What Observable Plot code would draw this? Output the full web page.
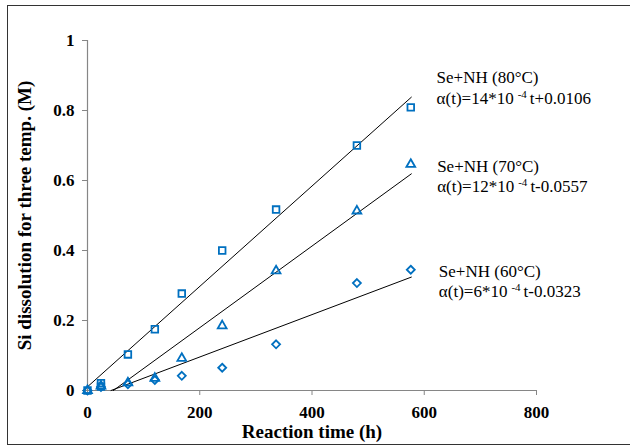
<!DOCTYPE html>
<html>
<head>
<meta charset="utf-8">
<script src="https://cdn.jsdelivr.net/npm/d3@7"></script>
<script src="https://cdn.jsdelivr.net/npm/@observablehq/plot@0.6"></script>
<style>
  html, body { margin: 0; padding: 0; background: #fff; }
  #wrap { position: relative; width: 630px; height: 448px; overflow: hidden; }
  #frame { position: absolute; left: 7px; top: 5px; width: 640px; height: 440px; border: 1.5px solid #333; box-sizing: border-box; pointer-events: none; }
  #chart { position: absolute; left: 0; top: 0; }
  #chart svg text { font-family: "Liberation Serif", "Times New Roman", serif; }
</style>
</head>
<body>
<div id="wrap"><div id="chart"></div><div id="frame"></div></div>
<script>
// Reaction time (h)
const times = [0, 24, 72, 120, 168, 240, 336, 480, 576];
// Si dissolution (M) per temperature
const si80 = [0, 0.021, 0.103, 0.175, 0.277, 0.400, 0.517, 0.700, 0.809];
const si80b = [0.011]; // second 80°C point at t=24
const si70 = [0, 0.013, 0.022, 0.035, 0.092, 0.185, 0.342, 0.513, 0.646];
const si60 = [0, 0.010, 0.018, 0.030, 0.042, 0.065, 0.132, 0.307, 0.345];

// fitted lines as drawn (start/end time and value)
const trendSeries = ["80", "70", "60"];
const trendT0 = [0, 46, 42];
const trendV0 = [0.0106, 0, 0];
const trendT1 = [577, 577, 577];
const trendV1 = [0.838, 0.619, 0.324];

// annotations
const labelNames = ["Se+NH (80°C)", "Se+NH (70°C)", "Se+NH (60°C)"];
const labelEqs = ["α(t)=14*10 -4 t+0.0106", "α(t)=12*10 -4 t-0.0557", "α(t)=6*10 -4 t-0.0323"];
const labelX = [622, 623, 626];
const labelY1 = [0.8946, 0.6392, 0.3392];
const labelY2 = [0.8347, 0.5820, 0.2820];

const xTicks = [0, 200, 400, 600, 800];
const yTicks = [0, 0.2, 0.4, 0.6, 0.8, 1];

const blue = "#0070C0";
const axisGray = "#868686";
const serif = "'Liberation Serif', 'Times New Roman', serif";

const pts = (vals, s) => times.map((t, i) => ({t, v: vals[i], s}));
const p80 = pts(si80, "80").concat([{t: 24, v: si80b[0], s: "80"}]);
const p70 = pts(si70, "70");
const p60 = pts(si60, "60");

const trends = [];
trendSeries.forEach((s, i) => {
  trends.push({s, t: trendT0[i], v: trendV0[i]});
  trends.push({s, t: trendT1[i], v: trendV1[i]});
});

const labels = labelNames.map((n, i) => ({x: labelX[i], y: labelY1[i], text: n}));
const eqs = labelEqs.map((n, i) => ({x: labelX[i], y: labelY2[i], text: n}));

const chart = Plot.plot({
  width: 630,
  height: 448,
  marginLeft: 87,
  marginRight: 94,
  marginTop: 40,
  marginBottom: 58,
  style: {fontFamily: serif, background: "transparent", overflow: "visible"},
  x: {domain: [0, 800]},
  y: {domain: [0, 1]},
  marks: [
    Plot.ruleY([0], {x1: 0, x2: 800, stroke: axisGray, strokeWidth: 1.2}),
    Plot.ruleX([0], {y1: 0, y2: 1, stroke: axisGray, strokeWidth: 1.2}),
    Plot.axisX({ticks: xTicks, tickSize: 5, tickPadding: 10, stroke: axisGray, color: "#000",
      fontSize: 17, fontWeight: "bold", label: null, tickFormat: d => String(d)}),
    Plot.axisY({ticks: yTicks, tickSize: 5, tickPadding: 8, stroke: axisGray, color: "#000",
      fontSize: 17, fontWeight: "bold", label: null, tickFormat: d => (d === 0 || d === 1) ? String(d) : d.toFixed(1)}),
    Plot.line(trends, {x: "t", y: "v", z: "s", stroke: "#000", strokeWidth: 1}),
    Plot.dot(p60, {x: "t", y: "v", symbol: "diamond2", r: 3.6, stroke: blue, strokeWidth: 1.8, fill: "none"}),
    Plot.dot(p70, {x: "t", y: "v", symbol: "triangle2", r: 4.2, stroke: blue, strokeWidth: 1.8, fill: "none"}),
    Plot.dot(p80, {x: "t", y: "v", symbol: "square2", r: 4.2, stroke: blue, strokeWidth: 1.8, fill: "none"}),
    Plot.text(labels, {x: "x", y: "y", text: "text", textAnchor: "start", fontSize: 17, fill: "#000"}),
    Plot.text(eqs, {x: "x", y: "y", text: "text", textAnchor: "start", fontSize: 17, fill: "#000", className: "eq"}),
    Plot.text(["Reaction time (h)"], {frameAnchor: "bottom", dy: 47, fontSize: 19, fontWeight: "bold", fill: "#000"}),
    Plot.text(["Si dissolution for three temp. (M)"], {frameAnchor: "left", textAnchor: "middle", dx: -63, rotate: -90, fontSize: 19, fontWeight: "bold", fill: "#000"})
  ]
});
document.getElementById("chart").appendChild(chart);

// render the "-4" as a superscript
d3.select(chart).selectAll("g.eq text").each(function() {
  const el = d3.select(this);
  const full = el.text();
  const m = full.match(/^(.*?10) (-4) (.*)$/);
  if (!m) return;
  el.text(null);
  el.append("tspan").text(m[1]);
  el.append("tspan").attr("dx", 4).attr("dy", -6).attr("font-size", 11).text(m[2]);
  el.append("tspan").attr("dx", 3).attr("dy", 6).text(m[3]);
});
</script>
</body>
</html>
